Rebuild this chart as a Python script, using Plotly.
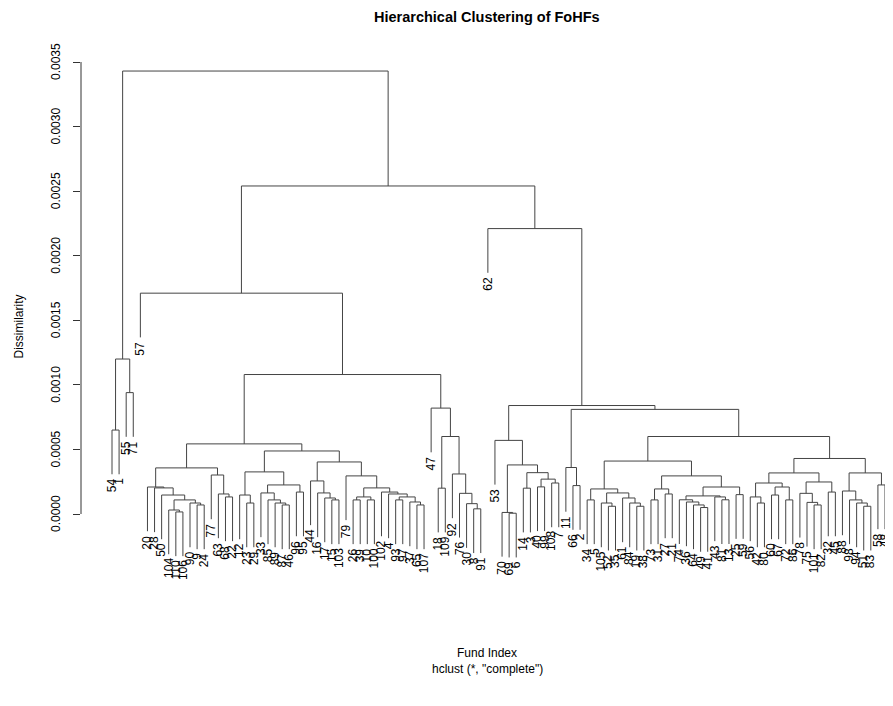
import plotly.graph_objects as go

# ---------------- data ----------------
leaf_labels = [54, 1, 55, 71, 57, 20, 28, 50, 104, 110, 106, 90, 9, 24, 77, 63, 68, 22, 12, 23,
               29, 33, 85, 89, 87, 46, 96, 95, 44, 16, 17, 15, 103, 79, 26, 39, 10, 100, 102, 4,
               93, 97, 37, 65, 107, 47, 18, 109, 92, 76, 30, 8, 91, 62, 53, 70, 69, 6, 14, 3,
               40, 99, 108, 7, 11, 66, 2, 34, 5, 105, 52, 35, 61, 84, 19, 38, 73, 31, 27, 21,
               74, 36, 64, 49, 41, 43, 81, 13, 25, 59, 56, 42, 80, 60, 67, 72, 86, 78, 75, 101,
               82, 32, 45, 88, 98, 94, 51, 83, 58, 48]

# nodes: [merge height, left, right]; leaves are positions (1-based) in leaf_labels
cluster_a = [0.00120, [0.00065, 1, 2], [0.00094, 3, 4]]

cluster_b_left = [0.000357,
                  [0.000209, 6, [0.000202, 7, [0.000147, 8,
                   [0.000109, [0.000031, 9, [0.000016, 10, 11]], [0.000085, 12, [0.00007, 13, 14]]]]]],
                  [0.000302, 15, [0.000155, 16, [0.000132, 17, 18]]]]
cluster_b_right = [0.000488,
                   [0.000326, [0.000147, 19, [0.000085, 20, 21]],
                    [0.000225, [0.000163, 22, [0.000109, 23, [0.000085, 24, [0.00007, 25, 26]]]],
                     [0.00017, 27, 28]]],
                   [0.000403, [0.000256, 29, [0.000163, 30, [0.000124, 31, [0.000109, 32, 33]]]],
                    [0.000295, 34, [0.000202, [0.000132, [0.000109, 35, 36], [0.000109, 37, 38]],
                                    [0.00017, 39, [0.000155, 40, [0.000132, [0.000109, 41, 42],
                                                                 [0.000093, 43, [0.00007, 44, 45]]]]]]]]]
cluster_b = [0.000543, cluster_b_left, cluster_b_right]

cluster_c = [0.00082, 46, [0.0006, [0.0002, 47, 48],
                           [0.00031, 49, [0.00016, 50, [0.00008, 51, [0.00004, 52, 53]]]]]]

cluster_d = [0.00057, 55, [0.00038, [0.000012, 56, [0.000006, 57, 58]],
                           [0.00032, [0.0002, 59, 60], [0.00027, [0.00021, 61, 62], [0.00024, 63, 64]]]]]

cluster_e = [0.00036, 65, [0.00022, 66, 67]]

cluster_f_left = [0.00041,
                  [0.000194, [0.000109, 68, 69],
                   [0.000163, [0.000085, 70, [0.00006, 71, 72]], [0.000124, 73, [0.000085, 74, [0.00006, 75, 76]]]]],
                  [0.000295, [0.000194, [0.000109, 77, 78], [0.000155, 79, 80]],
                   [0.000209, [0.00014, [0.00011, 81, [0.000093, 82, [0.00007, 83, [0.00005, 84, 85]]]],
                               [0.000132, 86, [0.00011, 87, 88]]],
                    [0.00015, 89, 90]]]]
cluster_f_right = [0.00043,
                   [0.000318, [0.00024, [0.000132, 91, [0.000085, 92, 93]],
                               [0.000209, [0.000147, 94, 95], [0.000109, 96, 97]]],
                    [0.000248, [0.00016, 98, [0.00009, 99, [0.00007, 100, 101]]], [0.00017, 102, 103]]],
                   [0.000318, [0.000178, 104, [0.000109, 105, [0.000085, 106, [0.00006, 107, 108]]]],
                    [0.000225, 109, 110]]]
cluster_f = [0.0006, cluster_f_left, cluster_f_right]

tree = [0.00343, cluster_a,
        [0.00254, [0.00171, 5, [0.00108, cluster_b, cluster_c]],
         [0.00221, 54, [0.00084, cluster_d, [0.00081, cluster_e, cluster_f]]]]]

y_ticks = [0.0, 0.0005, 0.0010, 0.0015, 0.0020, 0.0025, 0.0030, 0.0035]
hang_frac = 0.1

# ---------------- build dendrogram ----------------
def all_heights(node, acc):
    if isinstance(node, list):
        acc.append(node[0])
        all_heights(node[1], acc)
        all_heights(node[2], acc)
    return acc

hs = all_heights(tree, [])
hang = hang_frac * (max(hs) - min(hs))

xs, ys = [], []
leaf_bottom = {}

def walk(node):
    if not isinstance(node, list):
        return float(node), None
    h = node[0]
    lx, lh = walk(node[1])
    rx, rh = walk(node[2])
    lb = lh if lh is not None else h - hang
    rb = rh if rh is not None else h - hang
    if lh is None:
        leaf_bottom[node[1]] = lb
    if rh is None:
        leaf_bottom[node[2]] = rb
    xs.extend([lx, lx, rx, rx, None])
    ys.extend([lb, h, h, rb, None])
    return (lx + rx) / 2.0, h

walk(tree)

fig = go.Figure()
fig.add_trace(go.Scatter(x=xs, y=ys, mode="lines", line=dict(color="#444444", width=1),
                         hoverinfo="skip", showlegend=False))

# ---------------- layout geometry ----------------
# the page body has an 8px margin, so figure pixels = screen pixels - 8
OFF = 8
W, H = 893 - OFF, 706 - OFF
L, T, B = 81 - OFF, 53 - OFF, 600 - OFF
plot_h = B - T
px_per_unit = 452 / 0.0035
y_top = (514 - 53) / px_per_unit
y_bot = (514 - 600) / px_per_unit
first_px, last_px = 112, 885
x_step = (last_px - first_px) / 109.0
x_lo = 1 - (first_px - 81) / x_step
x_hi = 110 + (893 - last_px) / x_step

def py(screen_pix):
    return (B - (screen_pix - OFF)) / plot_h

font = "Liberation Sans, Arial, Helvetica, sans-serif"
ann = []
for pos, lab in enumerate(leaf_labels, start=1):
    ann.append(dict(x=pos, y=leaf_bottom[pos], xref="x", yref="y", text=str(lab),
                    textangle=-90, showarrow=False, xanchor="center", yanchor="top",
                    yshift=-3, borderpad=0, font=dict(family=font, size=12, color="black")))
for v in y_ticks:
    ann.append(dict(x=0, y=v, xref="paper", yref="y", text=f"{v:.4f}", textangle=-90,
                    showarrow=False, xanchor="center", yanchor="middle", xshift=-25,
                    font=dict(family=font, size=12, color="black")))
ann.append(dict(x=0, y=0.5, xref="paper", yref="paper", text="Dissimilarity", textangle=-90,
                showarrow=False, xanchor="center", yanchor="middle", xshift=-63,
                font=dict(family=font, size=12, color="black")))
ann.append(dict(x=0.5, y=py(8), xref="paper", yref="paper", text="<b>Hierarchical Clustering of FoHFs</b>",
                showarrow=False, xanchor="center", yanchor="top", borderpad=0,
                font=dict(family=font, size=14.5, color="black")))
ann.append(dict(x=0.5, y=py(653), xref="paper", yref="paper", text="Fund Index",
                showarrow=False, xanchor="center", yanchor="middle",
                font=dict(family=font, size=12, color="black")))
ann.append(dict(x=0.5, y=py(669), xref="paper", yref="paper", text='hclust (*, "complete")',
                showarrow=False, xanchor="center", yanchor="middle",
                font=dict(family=font, size=12, color="black")))

shapes = [dict(type="line", xref="paper", yref="y", x0=0, x1=0, y0=y_ticks[0], y1=y_ticks[-1],
               line=dict(color="#333333", width=1))]

fig.update_layout(
    width=W, height=H, autosize=False,
    margin=dict(l=L, r=0, t=T, b=H - B, pad=0),
    plot_bgcolor="white", paper_bgcolor="white",
    xaxis=dict(range=[x_lo, x_hi], visible=False, fixedrange=True, automargin=False),
    yaxis=dict(range=[y_bot, y_top], showgrid=False, zeroline=False, showline=False,
               tickvals=y_ticks, ticks="outside", ticklen=7, tickcolor="#333333", tickwidth=1,
               showticklabels=False, fixedrange=True, automargin=False),
    annotations=ann, shapes=shapes,
    showlegend=False,
)

fig.write_html("out.html")
